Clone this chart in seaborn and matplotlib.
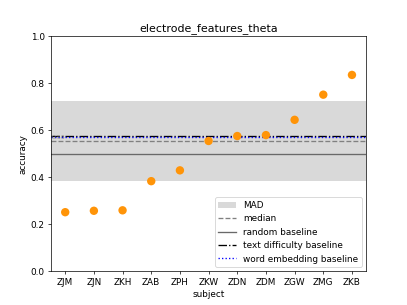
import matplotlib
matplotlib.use("Agg")
import numpy as np
import pandas as pd
import seaborn as sns
import matplotlib.pyplot as plt

# subjects sorted by accuracy
subjects = ["ZJM", "ZJN", "ZKH", "ZAB", "ZPH", "ZKW", "ZDN", "ZDM", "ZGW", "ZMG", "ZKB"]
accuracy = [0.252, 0.258, 0.260, 0.384, 0.430, 0.555, 0.576, 0.580, 0.645, 0.752, 0.836]

median = 0.555
mad_low = 0.384
mad_high = 0.727
random_baseline = 0.5
text_baseline = 0.576
embedding_baseline = 0.570

df = pd.DataFrame({"subject": subjects, "accuracy": accuracy})

fig = plt.figure(figsize=(6.4, 4.8), dpi=407 / 6.4)
ax = fig.add_subplot(111)

ax.axhspan(mad_low, mad_high, color="lightgray", alpha=0.85, label="MAD", lw=0)
ax.axhline(median, color="gray", ls="--", label="median")
ax.axhline(random_baseline, color="dimgray", ls="-", label="random baseline")
ax.axhline(text_baseline, color="black", ls="-.", label="text difficulty baseline")
ax.axhline(embedding_baseline, color="blue", ls=":", label="word embedding baseline")
ax.text(-0.48, median + 0.008, "%.2f" % median, color="gray", fontsize=7, alpha=0.8)

sns.scatterplot(data=df, x="subject", y="accuracy", color="#ff9408",
                s=90, edgecolor="none", ax=ax, zorder=3)

ax.set_xlim(-0.5, len(subjects) - 0.5)
ax.set_ylim(0, 1)
ax.set_title("electrode_features_theta", fontsize=12.5)
ax.legend(loc="lower right")
plt.savefig("out.png", dpi=407 / 6.4)
